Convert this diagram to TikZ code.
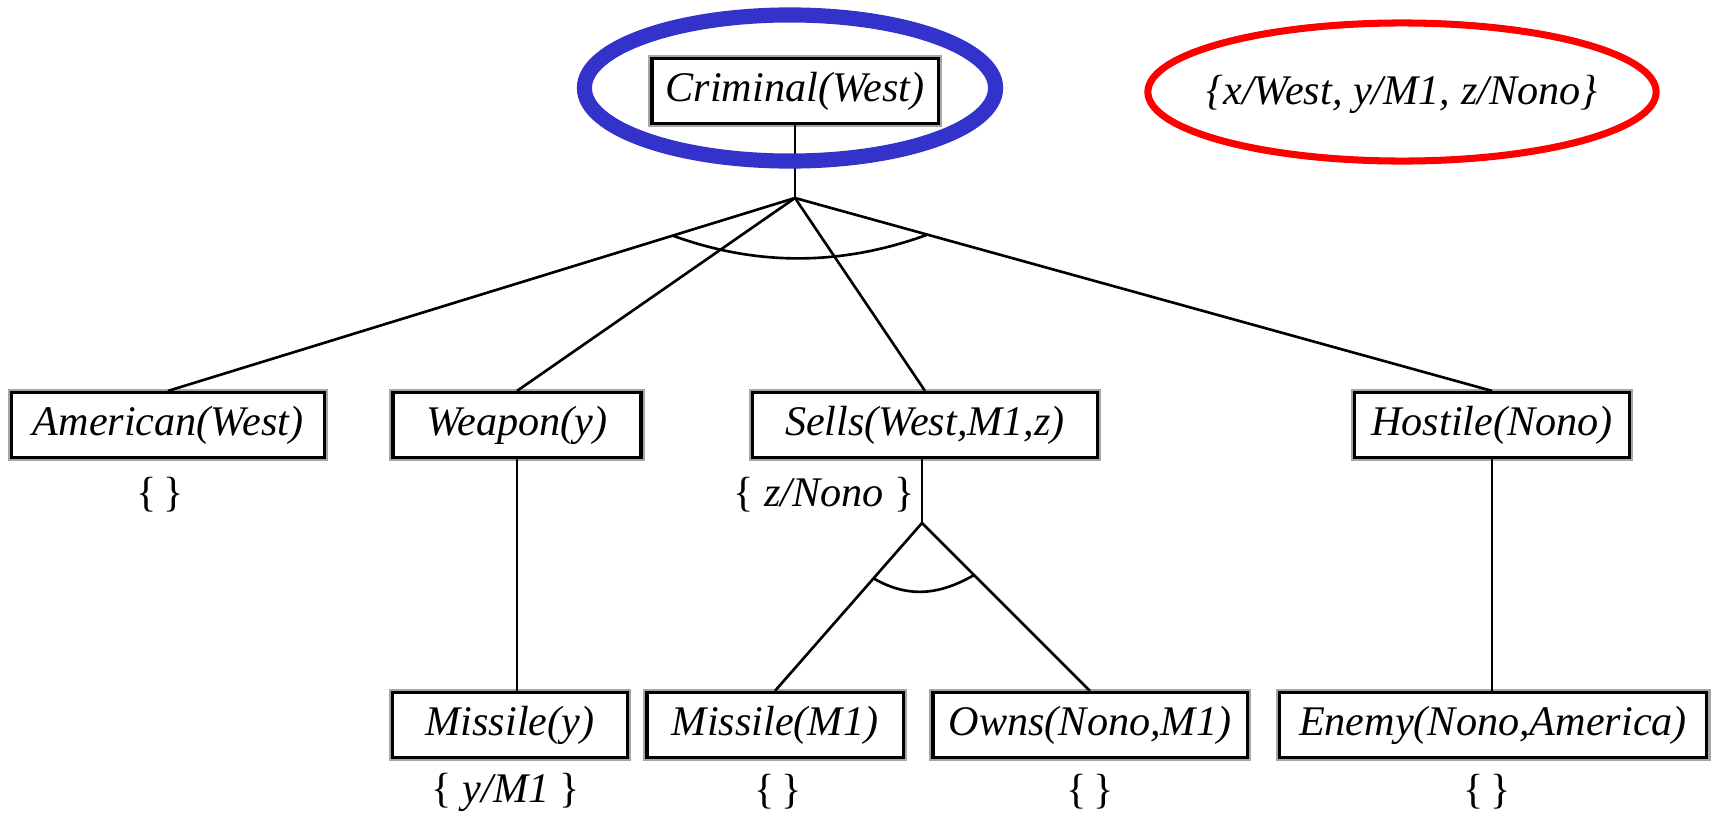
\documentclass[tikz,border=0pt]{standalone}
\usepackage{fontspec}
\setmainfont{Liberation Serif}
\usetikzlibrary{calc}

\definecolor{goalblue}{RGB}{51,51,204}

\newcommand{\lbr}{{\upshape\{}}
\newcommand{\rbr}{{\upshape\}}}

\tikzset{
  pred/.style={draw=black, line width=0.9pt, preaction={draw=black!35, line width=2.2pt},
    fill=white, inner sep=0pt, minimum height=0.65cm, font=\itshape\fontsize{12}{14}\selectfont},
  binding/.style={inner sep=0pt, font=\itshape\fontsize{12}{14}\selectfont},
  link/.style={line width=0.75pt},
}

\begin{document}
\begin{tikzpicture}[x=0.01cm, y=-0.01cm]
\useasboundingbox (0,0) rectangle (1715,815);

\node (crim) at (795, 91) [pred, minimum width=2.86cm] {Criminal(West)};

\node (american) at (168, 425) [pred, minimum width=3.12cm] {American(West)};
\node (weapon) at (517, 425) [pred, minimum width=2.48cm] {Weapon(y)};
\node (sells) at (925, 425) [pred, minimum width=3.44cm] {Sells(West,M1,z)};
\node (hostile) at (1492, 425) [pred, minimum width=2.75cm] {Hostile(Nono)};

\node (missiley) at (510, 725) [pred, minimum width=2.35cm] {Missile(y)};
\node (missilem) at (775, 725) [pred, minimum width=2.56cm] {Missile(M1)};
\node (owns) at (1090, 725) [pred, minimum width=3.14cm] {Owns(Nono,M1)};
\node (enemy) at (1493, 725) [pred, minimum width=4.27cm] {Enemy(Nono,America)};

\node (bamerican) at (160, 495) [binding] {\lbr\,\rbr};
\node (bsells) at (824, 495) [binding] {\lbr\ z/Nono \rbr};
\node (bmissiley) at (506, 792) [binding] {\lbr\ y/M1 \rbr};
\node (bmissilem) at (778, 792) [binding] {\lbr\,\rbr};
\node (bowns) at (1090, 792) [binding] {\lbr\,\rbr};
\node (benemy) at (1487, 792) [binding] {\lbr\,\rbr};

\coordinate (crimand) at (795, 198);
\coordinate (sellsand) at (922, 523);

\draw [link] (crim.south) -- (crimand);
\draw [link] (crimand) -- (american.north);
\draw [link] (crimand) -- (weapon.north);
\draw [link] (crimand) -- (sells.north);
\draw [link] (crimand) -- (hostile.north);
\draw [link] ($(crimand)!0.195!(american.north)$) .. controls +(85, 31) and +(-85, 31) .. ($(crimand)!0.19!(hostile.north)$);

\draw [link] (weapon.south) -- (weapon.south |- missiley.north);
\draw [link] (hostile.south) -- (hostile.south |- enemy.north);

\draw [link] (sells.south -| sellsand) -- (sellsand);
\draw [link] (sellsand) -- (missilem.north);
\draw [link] (sellsand) -- (owns.north);
\draw [link] ($(sellsand)!0.33!(missilem.north)$) .. controls +(35, 20) and +(-35, 20) .. ($(sellsand)!0.31!(owns.north)$);

\draw [goalblue, line width=4.3pt] (790, 88) ellipse [x radius=2.055cm, y radius=0.73cm];

\node (subst) at (1402, 94) [binding] {\{x/West, y/M1, z/Nono\}};
\draw [red, line width=2pt] (1402, 92) ellipse [x radius=2.54cm, y radius=0.69cm];

\end{tikzpicture}
\end{document}
